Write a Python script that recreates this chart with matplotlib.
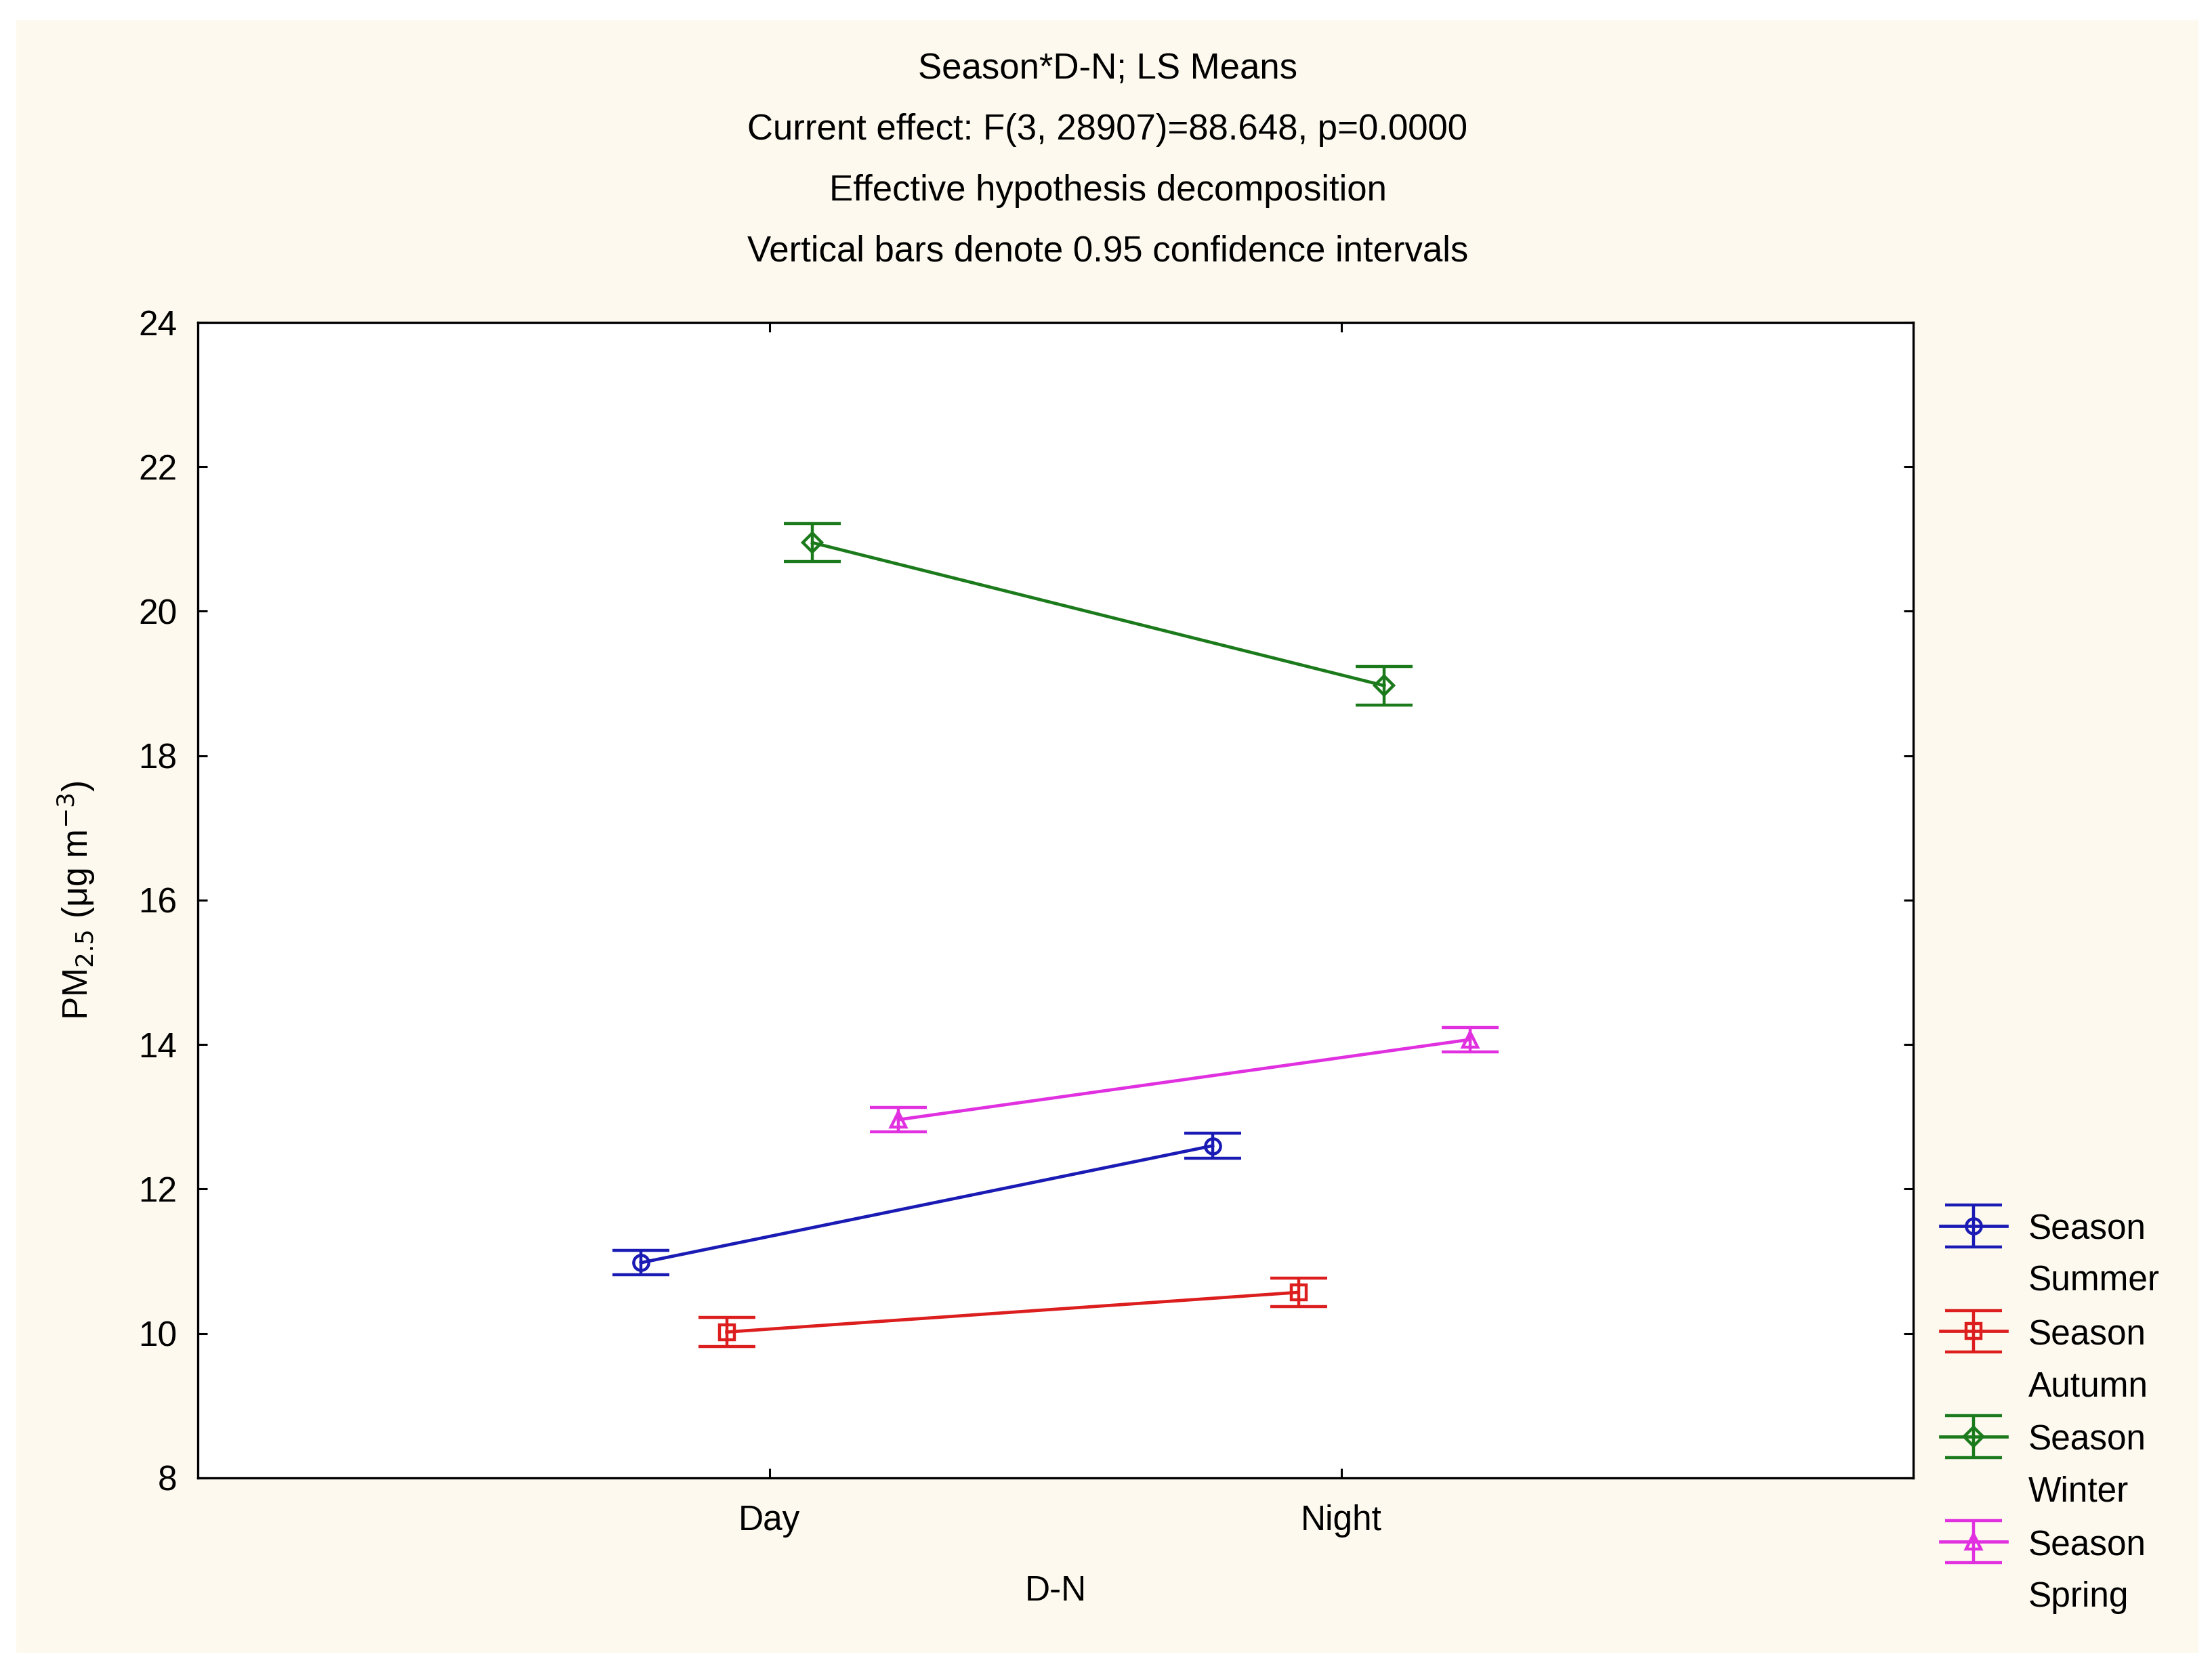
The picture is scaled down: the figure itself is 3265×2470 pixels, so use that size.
import matplotlib
matplotlib.use("Agg")
import matplotlib.pyplot as plt
from matplotlib.legend_handler import HandlerErrorbar

plt.rcParams['font.family'] = ['Liberation Sans', 'DejaVu Sans']

# LS means of PM2.5 by day/night and season, with 0.95 CI half-widths
periods = ['Day', 'Night']
seasons = ['Summer', 'Autumn', 'Winter', 'Spring']
means = {
    'Summer': [10.98, 12.60],
    'Autumn': [10.02, 10.57],
    'Winter': [20.95, 18.97],
    'Spring': [12.96, 14.07],
}
ci = {
    'Summer': [0.17, 0.17],
    'Autumn': [0.20, 0.20],
    'Winter': [0.26, 0.27],
    'Spring': [0.17, 0.17],
}
colors = {'Summer': '#1a1ab4', 'Autumn': '#dc1e1e', 'Winter': '#1b7a1b', 'Spring': '#e030e0'}
markers = {'Summer': 'o', 'Autumn': 's', 'Winter': 'D', 'Spring': '^'}
msizes = {'Summer': 8, 'Autumn': 8, 'Winter': 7, 'Spring': 8}
offsets = [-0.225, -0.075, 0.075, 0.225]

fs = 18.5
fig = plt.figure(figsize=(16.33, 12.35), dpi=200, facecolor='white')
# cream panel behind everything
fig.patches.append(plt.Rectangle((24 / 3266, 30 / 2470), (3245 - 24) / 3266, (2440 - 30) / 2470,
                                 transform=fig.transFigure, facecolor='#fdf9ee', edgecolor='none', zorder=-10))

ax = fig.add_axes([0.0894, 0.1166, 0.8646 - 0.0894, 0.8073 - 0.1166])
ax.set_facecolor('white')

for s, off in zip(seasons, offsets):
    x = [i + off for i in range(len(periods))]
    ax.errorbar(x, means[s], yerr=ci[s], color=colors[s], marker=markers[s], ms=msizes[s],
                mfc='none', mec=colors[s], mew=1.6, lw=1.7, elinewidth=1.6, capsize=15,
                capthick=2.0, label='Season\n' + s)

ax.set_xlim(-1, 2)
ax.set_ylim(8, 24)
ax.set_xticks(range(len(periods)))
ax.set_xticklabels(periods)
ax.set_yticks(range(8, 25, 2))
ax.tick_params(direction='in', length=5, width=1.1, top=True, right=True, labelsize=fs)
ax.tick_params(axis='x', pad=14)
ax.tick_params(axis='y', pad=11)
for sp in ax.spines.values():
    sp.set_linewidth(1.2)

ax.set_xlabel('D-N', fontsize=fs, labelpad=20)
ax.set_ylabel(r'PM$_{2.5}$ ($\mathregular{\mu}$g m$^{-3}$)', fontsize=fs, labelpad=22)

titles = ['Season*D-N; LS Means',
          'Current effect: F(3, 28907)=88.648, p=0.0000',
          'Effective hypothesis decomposition',
          'Vertical bars denote 0.95 confidence intervals']
for t, y in zip(titles, [0.9587, 0.9223, 0.8858, 0.8494]):
    fig.text(0.5006, y, t, ha='center', va='center', fontsize=fs + 0.5)

handles, labels = ax.get_legend_handles_labels()
leg = ax.legend(handles, labels, loc='upper left', bbox_to_anchor=(0.877, 0.2745),
                bbox_transform=fig.transFigure, frameon=False, fontsize=fs,
                handlelength=1.9, handletextpad=0.62, borderpad=0, borderaxespad=0,
                labelspacing=0.6,
                handler_map={h: HandlerErrorbar(xerr_size=0.5, yerr_size=0.6) for h in handles})
for t in leg.get_texts():
    t.set_linespacing(1.7)
for col in leg._legend_handle_box.get_children():
    for item in col.get_children():
        item.align = 'top'

fig.savefig('out.png', dpi=200, facecolor='white')
